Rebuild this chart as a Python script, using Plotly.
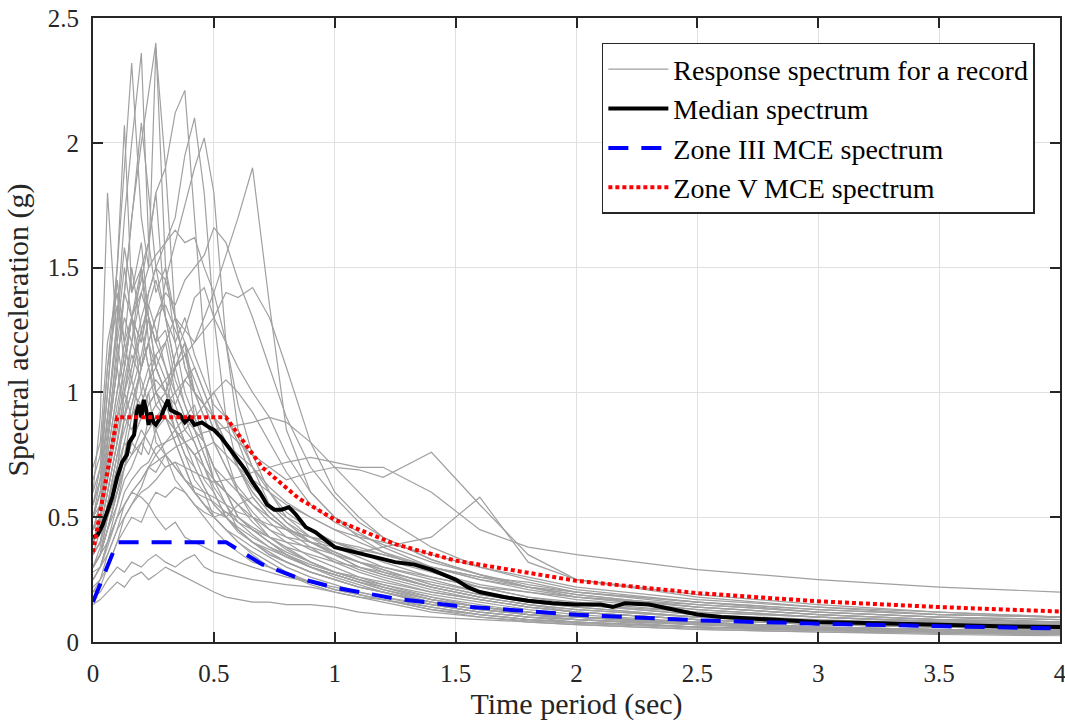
import plotly.graph_objects as go

# --- periods shared by the individual record spectra (sec) ---
periods = [0, 0.03, 0.06, 0.1, 0.13, 0.16, 0.2, 0.23,
           0.26, 0.3, 0.34, 0.38, 0.42, 0.46, 0.5, 0.55,
           0.6, 0.66, 0.73, 0.8, 0.9, 1.0, 1.1, 1.2,
           1.4, 1.6, 1.8, 2.0, 2.5, 3.0, 3.5, 4.0]

# --- response spectra of the individual records (g) ---
rec01 = [0.45, 0.55, 0.8, 1.1, 1.4, 1.7, 2.0, 2.2, 2.4, 1.5, 1.2, 1.0, 0.9, 0.8, 0.7, 0.6,
         0.5, 0.45, 0.4, 0.35, 0.3, 0.26, 0.23, 0.2, 0.16, 0.13, 0.11, 0.09, 0.06, 0.05, 0.04, 0.035]
rec02 = [0.5, 0.6, 0.9, 1.3, 1.7, 2.0, 2.36, 1.6, 1.8, 1.3, 1.1, 1.2, 0.9, 0.8, 0.65, 0.55,
         0.45, 0.4, 0.35, 0.32, 0.28, 0.25, 0.22, 0.2, 0.15, 0.12, 0.1, 0.09, 0.07, 0.05, 0.045, 0.04]
rec03 = [0.6, 0.7, 1.1, 1.5, 1.9, 2.32, 1.7, 1.5, 2.38, 1.9, 1.3, 1.1, 1.0, 0.9, 0.8, 0.7,
         0.6, 0.5, 0.42, 0.37, 0.32, 0.28, 0.25, 0.22, 0.18, 0.14, 0.12, 0.1, 0.08, 0.06, 0.05, 0.045]
rec04 = [0.4, 0.45, 0.6, 0.8, 1.0, 1.2, 1.5, 1.6, 1.8, 1.9, 2.12, 2.21, 1.7, 1.2, 0.9, 0.75,
         0.6, 0.52, 0.45, 0.4, 0.34, 0.3, 0.26, 0.23, 0.19, 0.16, 0.13, 0.11, 0.08, 0.06, 0.05, 0.04]
rec05 = [0.35, 0.4, 0.5, 0.7, 0.9, 1.1, 1.3, 1.4, 1.5, 1.6, 1.7, 1.95, 2.1, 1.8, 1.3, 0.9,
         0.7, 0.58, 0.5, 0.45, 0.38, 0.32, 0.28, 0.25, 0.2, 0.17, 0.14, 0.12, 0.09, 0.07, 0.06, 0.05]
rec06 = [0.5, 0.55, 0.7, 0.9, 1.1, 1.3, 1.2, 1.4, 1.5, 1.45, 1.6, 1.75, 1.9, 2.02, 1.8, 1.2,
         0.85, 0.7, 0.55, 0.48, 0.4, 0.35, 0.3, 0.27, 0.22, 0.18, 0.15, 0.13, 0.1, 0.08, 0.07, 0.06]
rec07 = [0.3, 0.35, 0.45, 0.6, 0.7, 0.8, 0.9, 1.0, 1.05, 1.0, 1.15, 1.25, 1.2, 1.3, 1.4, 1.55,
         1.7, 1.9, 1.35, 0.85, 0.6, 0.5, 0.42, 0.36, 0.28, 0.22, 0.18, 0.15, 0.11, 0.08, 0.07, 0.06]
rec08 = [0.4, 0.5, 0.7, 0.95, 1.1, 1.3, 1.4, 1.5, 1.55, 1.6, 1.65, 1.6, 1.62, 1.5, 1.4, 1.2,
         0.95, 0.75, 0.6, 0.5, 0.42, 0.36, 0.32, 0.28, 0.22, 0.18, 0.15, 0.12, 0.09, 0.07, 0.06, 0.05]
rec09 = [0.35, 0.4, 0.5, 0.65, 0.8, 0.95, 1.1, 1.2, 1.3, 1.4, 1.35, 1.45, 1.5, 1.55, 1.66, 1.6,
         1.45, 1.3, 1.1, 0.9, 0.7, 0.58, 0.48, 0.42, 0.33, 0.27, 0.22, 0.19, 0.14, 0.11, 0.09, 0.08]
rec10 = [0.3, 0.35, 0.45, 0.55, 0.7, 0.8, 0.9, 0.95, 1.0, 1.05, 1.1, 1.15, 1.2, 1.25, 1.3, 1.4,
         1.38, 1.42, 1.3, 1.1, 0.8, 0.6, 0.5, 0.42, 0.33, 0.27, 0.22, 0.18, 0.13, 0.1, 0.08, 0.07]
rec11 = [0.55, 0.7, 1.0, 1.45, 1.2, 1.3, 1.1, 1.2, 1.0, 0.9, 0.8, 0.7, 0.6, 0.55, 0.5, 0.45,
         0.4, 0.35, 0.3, 0.27, 0.23, 0.2, 0.18, 0.16, 0.12, 0.1, 0.08, 0.07, 0.05, 0.04, 0.035, 0.03]
rec12 = [0.6, 0.9, 1.8, 1.2, 1.4, 1.3, 1.5, 1.2, 1.1, 1.0, 0.85, 0.75, 0.65, 0.6, 0.5, 0.45,
         0.4, 0.36, 0.32, 0.28, 0.24, 0.21, 0.19, 0.17, 0.13, 0.1, 0.085, 0.075, 0.055, 0.045, 0.04, 0.035]
rec13 = [0.5, 0.65, 0.9, 1.3, 1.58, 1.4, 1.5, 1.3, 1.2, 1.1, 1.0, 0.9, 0.85, 0.8, 0.7, 0.6,
         0.55, 0.48, 0.42, 0.38, 0.32, 0.28, 0.25, 0.22, 0.17, 0.14, 0.12, 0.1, 0.07, 0.055, 0.045, 0.04]
rec14 = [0.3, 0.35, 0.45, 0.6, 0.75, 0.9, 1.0, 1.1, 1.15, 1.2, 1.3, 1.25, 1.38, 1.42, 1.3, 1.2,
         1.1, 1.0, 0.9, 0.75, 0.6, 0.5, 0.44, 0.38, 0.3, 0.26, 0.22, 0.19, 0.14, 0.11, 0.09, 0.08]
rec15 = [0.3, 0.35, 0.45, 0.6, 0.7, 0.75, 0.8, 0.85, 0.9, 0.95, 1.0, 1.05, 1.0, 0.95, 0.9, 0.85,
         0.8, 0.75, 0.7, 0.65, 0.68, 0.7, 0.69, 0.66, 0.76, 0.55, 0.35, 0.25, 0.18, 0.14, 0.11, 0.1]
rec16 = [0.25, 0.3, 0.35, 0.45, 0.55, 0.6, 0.65, 0.7, 0.75, 0.8, 0.85, 0.8, 0.75, 0.7, 0.65, 0.6,
         0.55, 0.5, 0.45, 0.42, 0.4, 0.38, 0.36, 0.38, 0.42, 0.58, 0.32, 0.25, 0.19, 0.15, 0.12, 0.1]
rec17 = [0.2, 0.25, 0.3, 0.4, 0.5, 0.55, 0.6, 0.62, 0.65, 0.7, 0.72, 0.7, 0.68, 0.66, 0.64, 0.65,
         0.66, 0.68, 0.7, 0.72, 0.74, 0.72, 0.7, 0.7, 0.6, 0.45, 0.38, 0.35, 0.29, 0.25, 0.22, 0.2]
rec18 = [0.3, 0.35, 0.4, 0.5, 0.55, 0.6, 0.65, 0.7, 0.72, 0.75, 0.78, 0.8, 0.82, 0.84, 0.85, 0.86,
         0.87, 0.88, 0.9, 0.88, 0.8, 0.7, 0.6, 0.5, 0.38, 0.3, 0.25, 0.21, 0.16, 0.13, 0.11, 0.1]
rec19 = [0.15, 0.17, 0.2, 0.24, 0.22, 0.26, 0.28, 0.25, 0.27, 0.3, 0.28, 0.26, 0.24, 0.22, 0.2, 0.18,
         0.17, 0.16, 0.16, 0.15, 0.15, 0.14, 0.12, 0.11, 0.1, 0.09, 0.08, 0.07, 0.05, 0.04, 0.03, 0.025]
rec20 = [0.18, 0.2, 0.25, 0.3, 0.28, 0.32, 0.3, 0.33, 0.35, 0.32, 0.3, 0.33, 0.35, 0.3, 0.28, 0.27,
         0.26, 0.25, 0.24, 0.23, 0.22, 0.2, 0.18, 0.17, 0.14, 0.11, 0.09, 0.08, 0.06, 0.045, 0.035, 0.03]
rec21 = [0.25, 0.3, 0.4, 0.5, 0.55, 0.6, 0.58, 0.55, 0.5, 0.45, 0.48, 0.42, 0.4, 0.38, 0.36, 0.34,
         0.32, 0.3, 0.28, 0.26, 0.24, 0.22, 0.2, 0.18, 0.15, 0.12, 0.1, 0.08, 0.06, 0.05, 0.04, 0.035]
rec22 = [0.4, 0.5, 0.75, 1.0, 1.2, 1.05, 1.25, 1.1, 0.95, 0.9, 0.8, 0.7, 0.6, 0.55, 0.5, 0.45,
         0.42, 0.38, 0.34, 0.3, 0.26, 0.23, 0.2, 0.18, 0.14, 0.11, 0.09, 0.08, 0.06, 0.05, 0.04, 0.035]
rec23 = [0.45, 0.55, 0.8, 1.1, 0.9, 1.0, 1.15, 1.3, 1.1, 1.2, 1.0, 0.9, 0.95, 0.8, 0.7, 0.65,
         0.6, 0.55, 0.5, 0.45, 0.4, 0.35, 0.3, 0.27, 0.22, 0.18, 0.15, 0.13, 0.1, 0.08, 0.065, 0.055]
rec24 = [0.3, 0.35, 0.5, 0.7, 0.9, 0.85, 0.95, 1.05, 1.1, 1.0, 0.95, 1.05, 1.1, 1.0, 0.9, 0.8,
         0.7, 0.6, 0.52, 0.46, 0.4, 0.36, 0.32, 0.29, 0.23, 0.19, 0.16, 0.14, 0.1, 0.08, 0.07, 0.06]
rec25 = [0.7, 0.8, 1.2, 1.4, 1.1, 1.3, 1.0, 0.9, 0.85, 0.75, 0.65, 0.6, 0.55, 0.5, 0.45, 0.4,
         0.36, 0.32, 0.3, 0.27, 0.24, 0.21, 0.19, 0.17, 0.13, 0.11, 0.09, 0.08, 0.06, 0.05, 0.04, 0.035]
rec26 = [0.35, 0.4, 0.55, 0.75, 0.85, 0.95, 1.1, 1.2, 1.3, 1.35, 1.25, 1.15, 1.0, 0.95, 0.85, 0.8,
         0.7, 0.62, 0.55, 0.5, 0.45, 0.4, 0.36, 0.33, 0.28, 0.23, 0.2, 0.17, 0.13, 0.1, 0.085, 0.075]
rec27 = [0.25, 0.3, 0.4, 0.55, 0.65, 0.7, 0.8, 0.75, 0.85, 0.9, 0.85, 0.8, 0.75, 0.78, 0.8, 0.75,
         0.7, 0.65, 0.6, 0.55, 0.5, 0.45, 0.42, 0.4, 0.35, 0.3, 0.26, 0.22, 0.17, 0.14, 0.12, 0.1]
rec28 = [0.5, 0.6, 0.85, 1.15, 1.3, 1.2, 1.4, 1.3, 1.2, 1.25, 1.05, 0.95, 0.85, 0.75, 0.65, 0.6,
         0.5, 0.45, 0.4, 0.36, 0.32, 0.28, 0.25, 0.23, 0.18, 0.15, 0.12, 0.1, 0.08, 0.06, 0.05, 0.045]
rec29 = [0.2, 0.22, 0.3, 0.4, 0.45, 0.5, 0.48, 0.55, 0.6, 0.58, 0.62, 0.6, 0.55, 0.52, 0.5, 0.52,
         0.5, 0.46, 0.42, 0.4, 0.38, 0.35, 0.32, 0.3, 0.26, 0.22, 0.2, 0.18, 0.15, 0.12, 0.1, 0.09]
rec30 = [0.45, 0.5, 0.65, 0.9, 1.0, 1.15, 1.05, 0.95, 1.0, 0.9, 0.85, 0.9, 0.8, 0.7, 0.6, 0.5,
         0.45, 0.4, 0.37, 0.34, 0.3, 0.27, 0.24, 0.21, 0.17, 0.14, 0.11, 0.1, 0.07, 0.055, 0.045, 0.04]
rec31 = [0.3, 0.35, 0.5, 0.6, 0.7, 0.8, 0.75, 0.9, 0.95, 1.0, 1.1, 1.15, 1.05, 0.95, 0.85, 0.8,
         0.75, 0.7, 0.62, 0.56, 0.5, 0.45, 0.4, 0.36, 0.3, 0.25, 0.22, 0.2, 0.16, 0.13, 0.11, 0.1]
rec32 = [0.35, 0.45, 0.6, 0.8, 0.95, 1.05, 0.9, 1.0, 0.8, 0.75, 0.7, 0.65, 0.6, 0.55, 0.52, 0.5,
         0.55, 0.58, 0.5, 0.45, 0.42, 0.4, 0.38, 0.35, 0.3, 0.26, 0.24, 0.2, 0.16, 0.12, 0.1, 0.08]
rec33 = [0.55, 0.65, 0.9, 1.25, 1.5, 1.3, 1.2, 1.35, 1.25, 1.1, 0.95, 0.85, 0.8, 0.7, 0.62, 0.55,
         0.48, 0.43, 0.38, 0.34, 0.3, 0.27, 0.24, 0.22, 0.17, 0.14, 0.12, 0.1, 0.08, 0.06, 0.05, 0.045]
rec34 = [0.4, 0.45, 0.6, 0.8, 1.0, 1.1, 1.25, 1.35, 1.45, 1.3, 1.2, 1.3, 1.15, 1.05, 0.95, 0.9,
         0.82, 0.7, 0.6, 0.52, 0.45, 0.4, 0.36, 0.32, 0.26, 0.22, 0.18, 0.16, 0.12, 0.1, 0.08, 0.07]
rec35 = [0.55, 0.65, 1.0, 1.5, 2.07, 1.4, 1.6, 1.3, 1.1, 1.0, 0.9, 0.8, 0.75, 0.65, 0.6, 0.5,
         0.45, 0.4, 0.35, 0.32, 0.28, 0.25, 0.22, 0.2, 0.15, 0.12, 0.1, 0.09, 0.07, 0.05, 0.045, 0.04]
rec36 = [0.45, 0.5, 0.8, 1.1, 1.4, 1.7, 2.08, 1.8, 1.5, 1.3, 1.1, 0.95, 0.85, 0.75, 0.65, 0.6,
         0.5, 0.45, 0.4, 0.35, 0.3, 0.27, 0.24, 0.21, 0.16, 0.13, 0.11, 0.1, 0.075, 0.06, 0.05, 0.045]
rec37 = [0.3, 0.38, 0.55, 0.75, 0.9, 1.0, 0.95, 1.05, 1.15, 1.05, 0.9, 0.8, 0.7, 0.62, 0.55, 0.5,
         0.46, 0.42, 0.38, 0.35, 0.31, 0.28, 0.26, 0.24, 0.2, 0.17, 0.14, 0.12, 0.09, 0.07, 0.06, 0.05]
rec38 = [0.22, 0.25, 0.35, 0.45, 0.5, 0.55, 0.62, 0.7, 0.68, 0.75, 0.7, 0.65, 0.62, 0.6, 0.58, 0.55,
         0.52, 0.5, 0.47, 0.45, 0.42, 0.4, 0.37, 0.35, 0.3, 0.25, 0.21, 0.18, 0.14, 0.11, 0.09, 0.08]
rec39 = [0.5, 0.6, 0.8, 1.2, 1.0, 0.9, 1.1, 1.2, 1.0, 0.95, 1.1, 1.2, 1.0, 0.9, 0.8, 0.7,
         0.62, 0.55, 0.48, 0.42, 0.37, 0.33, 0.29, 0.26, 0.21, 0.17, 0.14, 0.12, 0.09, 0.07, 0.06, 0.05]
rec40 = [0.4, 0.48, 0.65, 0.85, 1.05, 1.2, 1.1, 1.3, 1.2, 1.45, 1.3, 1.1, 1.0, 0.95, 1.0, 0.9,
         0.8, 0.65, 0.55, 0.48, 0.42, 0.38, 0.34, 0.3, 0.25, 0.2, 0.17, 0.15, 0.11, 0.09, 0.075, 0.065]
rec41 = [0.65, 0.75, 1.1, 1.35, 1.2, 1.5, 1.25, 1.1, 1.0, 0.95, 0.85, 0.75, 0.7, 0.62, 0.55, 0.5,
         0.44, 0.4, 0.36, 0.32, 0.28, 0.25, 0.22, 0.2, 0.16, 0.13, 0.11, 0.09, 0.07, 0.055, 0.045, 0.04]
rec42 = [0.28, 0.3, 0.38, 0.5, 0.6, 0.65, 0.7, 0.72, 0.78, 0.8, 0.82, 0.85, 0.9, 0.95, 1.0, 1.05,
         1.0, 0.92, 0.8, 0.68, 0.55, 0.48, 0.43, 0.39, 0.32, 0.27, 0.23, 0.2, 0.15, 0.12, 0.1, 0.09]
rec43 = [0.35, 0.4, 0.55, 0.7, 0.8, 0.75, 0.85, 0.8, 0.75, 0.7, 0.72, 0.65, 0.6, 0.58, 0.56, 0.52,
         0.48, 0.45, 0.42, 0.38, 0.35, 0.32, 0.3, 0.28, 0.24, 0.2, 0.17, 0.15, 0.12, 0.1, 0.08, 0.07]
rec44 = [0.45, 0.55, 0.75, 1.0, 1.15, 1.3, 1.45, 1.6, 1.4, 1.5, 1.3, 1.2, 1.1, 1.0, 0.9, 0.8,
         0.7, 0.6, 0.52, 0.46, 0.4, 0.36, 0.32, 0.29, 0.23, 0.19, 0.16, 0.14, 0.1, 0.08, 0.07, 0.06]

records = [rec01, rec02, rec03, rec04, rec05, rec06, rec07, rec08, rec09, rec10, rec11,
           rec12, rec13, rec14, rec15, rec16, rec17, rec18, rec19, rec20, rec21, rec22,
           rec23, rec24, rec25, rec26, rec27, rec28, rec29, rec30, rec31, rec32, rec33,
           rec34, rec35, rec36, rec37, rec38, rec39, rec40, rec41, rec42, rec43, rec44]

# --- median spectrum ---
median_T = [0, 0.02, 0.04, 0.06, 0.08, 0.1, 0.12, 0.14, 0.15, 0.17, 0.18, 0.19, 0.2, 0.21, 0.22,
            0.23, 0.24, 0.25, 0.26, 0.28, 0.3, 0.31, 0.32, 0.34, 0.36, 0.38, 0.4, 0.42, 0.45, 0.48,
            0.5, 0.53, 0.56, 0.6, 0.63, 0.66, 0.69, 0.72, 0.75, 0.78, 0.81, 0.84, 0.88, 0.92, 0.96,
            1.0, 1.04, 1.08, 1.12, 1.16, 1.25, 1.33, 1.4, 1.45, 1.5, 1.55, 1.6, 1.7, 1.8, 1.9,
            2.0, 2.1, 2.15, 2.2, 2.3, 2.4, 2.5, 2.6, 2.8, 3.0, 3.25, 3.5, 3.75, 4.0]
median_Sa = [0.42, 0.43, 0.47, 0.52, 0.58, 0.66, 0.72, 0.75, 0.8, 0.83, 0.92, 0.95, 0.9, 0.97, 0.93,
             0.87, 0.92, 0.88, 0.87, 0.9, 0.95, 0.97, 0.93, 0.92, 0.91, 0.88, 0.9, 0.87, 0.88, 0.86,
             0.85, 0.82, 0.78, 0.73, 0.69, 0.64, 0.6, 0.55, 0.53, 0.53, 0.54, 0.51, 0.46, 0.44, 0.41,
             0.38, 0.37, 0.36, 0.35, 0.34, 0.32, 0.31, 0.29, 0.27, 0.25, 0.22, 0.2, 0.18, 0.165, 0.155,
             0.15, 0.15, 0.14, 0.155, 0.15, 0.13, 0.11, 0.1, 0.09, 0.08, 0.075, 0.068, 0.063, 0.06]

# --- code spectra ---
code_T = [0, 0.1, 0.55, 0.7, 0.85, 1.0, 1.25, 1.5, 2.0, 2.5, 3.0, 3.5, 4.0]
zone3_Sa = [0.16, 0.4, 0.4, 0.311, 0.256, 0.218, 0.174, 0.145, 0.109, 0.087, 0.073, 0.062, 0.054]
zone5_Sa = [0.36, 0.9, 0.9, 0.70, 0.576, 0.49, 0.392, 0.326, 0.245, 0.196, 0.163, 0.14, 0.122]

FONT = "Liberation Serif"
INK = "#262626"

fig = go.Figure()

for i, rec in enumerate(records):
    fig.add_trace(go.Scatter(
        x=periods, y=rec, mode="lines",
        line=dict(color="#a0a0a0", width=1.2),
        name="Response spectrum for a record",
        legendgroup="rec", showlegend=(i == 0),
    ))

fig.add_trace(go.Scatter(x=median_T, y=median_Sa, mode="lines",
                         line=dict(color="black", width=4),
                         name="Median spectrum"))
fig.add_trace(go.Scatter(x=code_T, y=zone3_Sa, mode="lines",
                         line=dict(color="#0000ff", width=4, dash="20px,13px"),
                         name="Zone III MCE spectrum"))
fig.add_trace(go.Scatter(x=code_T, y=zone5_Sa, mode="lines",
                         line=dict(color="#ff0000", width=4, dash="4px,3px"),
                         name="Zone V MCE spectrum"))

axis_common = dict(
    showline=True, linecolor=INK, linewidth=2, mirror="ticks",
    ticks="inside", ticklen=10, tickwidth=2, tickcolor=INK,
    showgrid=True, gridcolor="#e0e0e0", gridwidth=1, zeroline=False,
    tickfont=dict(family=FONT, size=25, color=INK),
    automargin=False, ticklabeloverflow="allow",
)

fig.update_xaxes(range=[0, 4], dtick=0.5, tickformat="~g", ticklabelstandoff=8,
                 title=dict(text="Time period (sec)", font=dict(family=FONT, size=30, color=INK),
                            standoff=6),
                 **axis_common)
fig.update_yaxes(range=[0, 2.5], dtick=0.5, tickformat="~g", ticklabelstandoff=7,
                 title=dict(text="Spectral acceleration (g)", font=dict(family=FONT, size=30, color=INK),
                            standoff=10),
                 **axis_common)

fig.update_layout(
    width=1065, height=722,
    margin=dict(l=93, r=5, t=18, b=80),
    plot_bgcolor="white", paper_bgcolor="white",
    font=dict(family=FONT, size=25, color="black"),
    legend=dict(x=0.974, y=0.96, xanchor="right", yanchor="top",
                bgcolor="white", bordercolor=INK, borderwidth=1.5,
                font=dict(family=FONT, size=28, color="black"),
                tracegroupgap=0, itemwidth=60),
)

# the page's default body margin would shift the figure by 8px
fig.write_html("out.html", config={"displayModeBar": False},
               post_script="document.body.style.margin='0';")
